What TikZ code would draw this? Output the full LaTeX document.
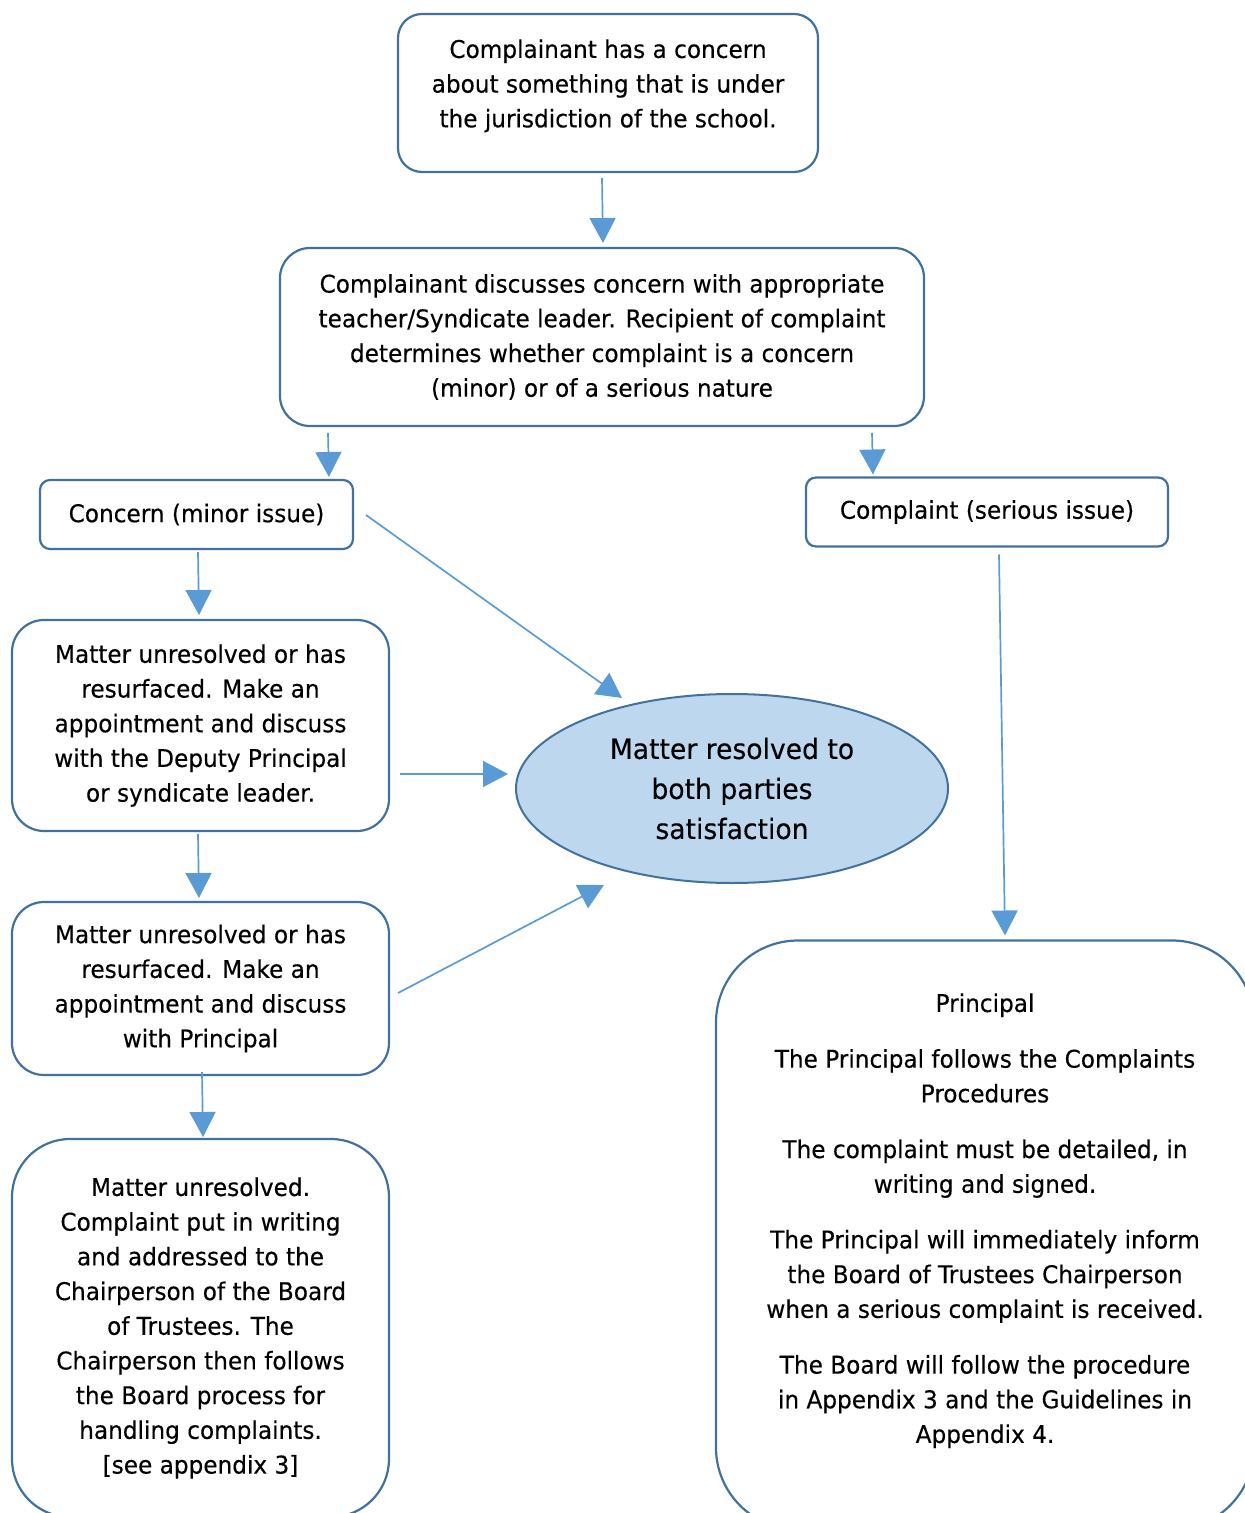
\documentclass[tikz,border=0pt]{standalone}
\usepackage{fontspec}
\setmainfont{DejaVu Sans}[FakeStretch=0.95, FakeBold=0.3]
\usepackage{tikz}
\usetikzlibrary{shapes.geometric,arrows.meta,positioning,calc}
\definecolor{boxblue}{HTML}{41719C}
\definecolor{arrowblue}{HTML}{5B9BD5}
\definecolor{resolvedfill}{HTML}{BDD7EE}

\begin{document}
\begin{tikzpicture}[
  x=0.5pt, y=-0.5pt,
  flowbox/.style={rectangle, rounded corners=12pt, draw=boxblue, line width=1.1pt,
    outer sep=0pt, align=center, inner sep=2pt, font={\fontsize{12.2}{17.35}\selectfont}},
  smallbox/.style={flowbox, rounded corners=5pt, minimum height=34.5pt},
  stepbox/.style={flowbox, rounded corners=16pt, minimum width=188.5pt},
  resolved/.style={ellipse, draw=boxblue, line width=1pt, fill=resolvedfill, outer sep=0pt,
    minimum width=216pt, minimum height=94.5pt, align=center, inner sep=1pt,
    font={\fontsize{14}{20}\selectfont}},
  flowarrow/.style={draw=arrowblue, line width=0.85pt, -{Triangle[length=12.5pt,width=13pt]}}
]
\useasboundingbox (0,0) rectangle (1245,1513);

% Starting point and first discussion
\node[flowbox, minimum width=210pt, minimum height=79pt] (concern) at (608,93) {};
\node[font={\fontsize{12.2}{17.35}\selectfont}, align=center, inner sep=0pt,
  below=12.5pt of concern.north] (concerntext)
  {Complainant has a concern\\about something that is under\\the jurisdiction of the school.};
\node[flowbox, rounded corners=15pt, minimum width=322pt, minimum height=89pt,
  below=38pt of concern, xshift=-3pt] (discuss)
  {Complainant discusses concern with appropriate\\teacher/Syndicate leader. Recipient of complaint\\determines whether complaint is a concern\\(minor) or of a serious nature};
\draw[flowarrow] ($(concern.south)+(-6,6)$) -- ($(discuss.north)+(1,-5)$);

% The two branches
\node[smallbox, minimum width=156.5pt, below=27pt of discuss, xshift=-202.75pt] (minor) {Concern (minor issue)};
\node[smallbox, minimum width=181pt, right=226.5pt of minor, yshift=1.25pt] (serious) {Complaint (serious issue)};
\draw[flowarrow] ($(discuss.south west)+(48,7)$) -- ($(minor.north east)+(-24,-3)$);
\draw[flowarrow] ($(discuss.south east)+(-52,7)$) -- ($(serious.north west)+(67,-3)$);

% Minor issue steps down the left side
\node[stepbox, minimum height=105.5pt, below=35.5pt of minor, xshift=2pt] (deputy)
  {Matter unresolved or has\\resurfaced. Make an\\appointment and discuss\\with the Deputy Principal\\or syndicate leader.};
\node[stepbox, minimum height=86.5pt, below=35.5pt of deputy] (principal)
  {Matter unresolved or has\\resurfaced. Make an\\appointment and discuss\\with Principal};
\node[stepbox, rounded corners=29pt, minimum height=189pt, below=32pt of principal] (board)
  {Matter unresolved.\\Complaint put in writing\\and addressed to the\\Chairperson of the Board\\of Trustees. The\\Chairperson then follows\\the Board process for\\handling complaints.\\{[see appendix 3]}};
\draw[flowarrow] ($(minor.south)+(1.5,3)$) -- ($(deputy.north)+(-1.5,-5)$);
\draw[flowarrow] ($(deputy.south)+(-2.5,3)$) -- ($(principal.north)+(-1.5,-4)$);
\draw[flowarrow] ($(principal.south)+(1.5,-3)$) -- ($(board.north)+(2.5,-2)$);

% Resolution in the middle
\node[resolved, right=63.5pt of deputy, yshift=-31.5pt] (resolved) {Matter resolved to\\both parties\\satisfaction};
\draw[flowarrow] ($(minor.east)+(13,0.5)$) -- ($(resolved.center)+(-110,-90.5)$);
\draw[flowarrow] ($(deputy.east)+(11,48.5)$) -- ($(resolved.west)+(-8,-14.5)$);
\draw[flowarrow] ($(principal.east)+(9,4.5)$) -- ($(resolved.south)+(-128,2)$);

% Serious complaint goes straight to the Principal
\node[flowbox, rounded corners=41pt, minimum width=269pt, minimum height=294.5pt,
  below=197pt of serious, xshift=-1pt] (procedure) {};
\node[font={\fontsize{12.2}{17.35}\selectfont}, align=center, inner sep=0pt,
  below=26.25pt of procedure.north] (proceduretext)
  {Principal\\[10.5pt]The Principal follows the Complaints\\Procedures\\[10.5pt]The complaint must be detailed, in\\writing and signed.\\[10.5pt]The Principal will immediately inform\\the Board of Trustees Chairperson\\when a serious complaint is received.\\[10.5pt]The Board will follow the procedure\\in Appendix 3 and the Guidelines in\\Appendix 4.};
\draw[flowarrow] ($(serious.south)+(12,8)$) -- ($(procedure.north)+(20,-5)$);

\end{tikzpicture}
\end{document}
